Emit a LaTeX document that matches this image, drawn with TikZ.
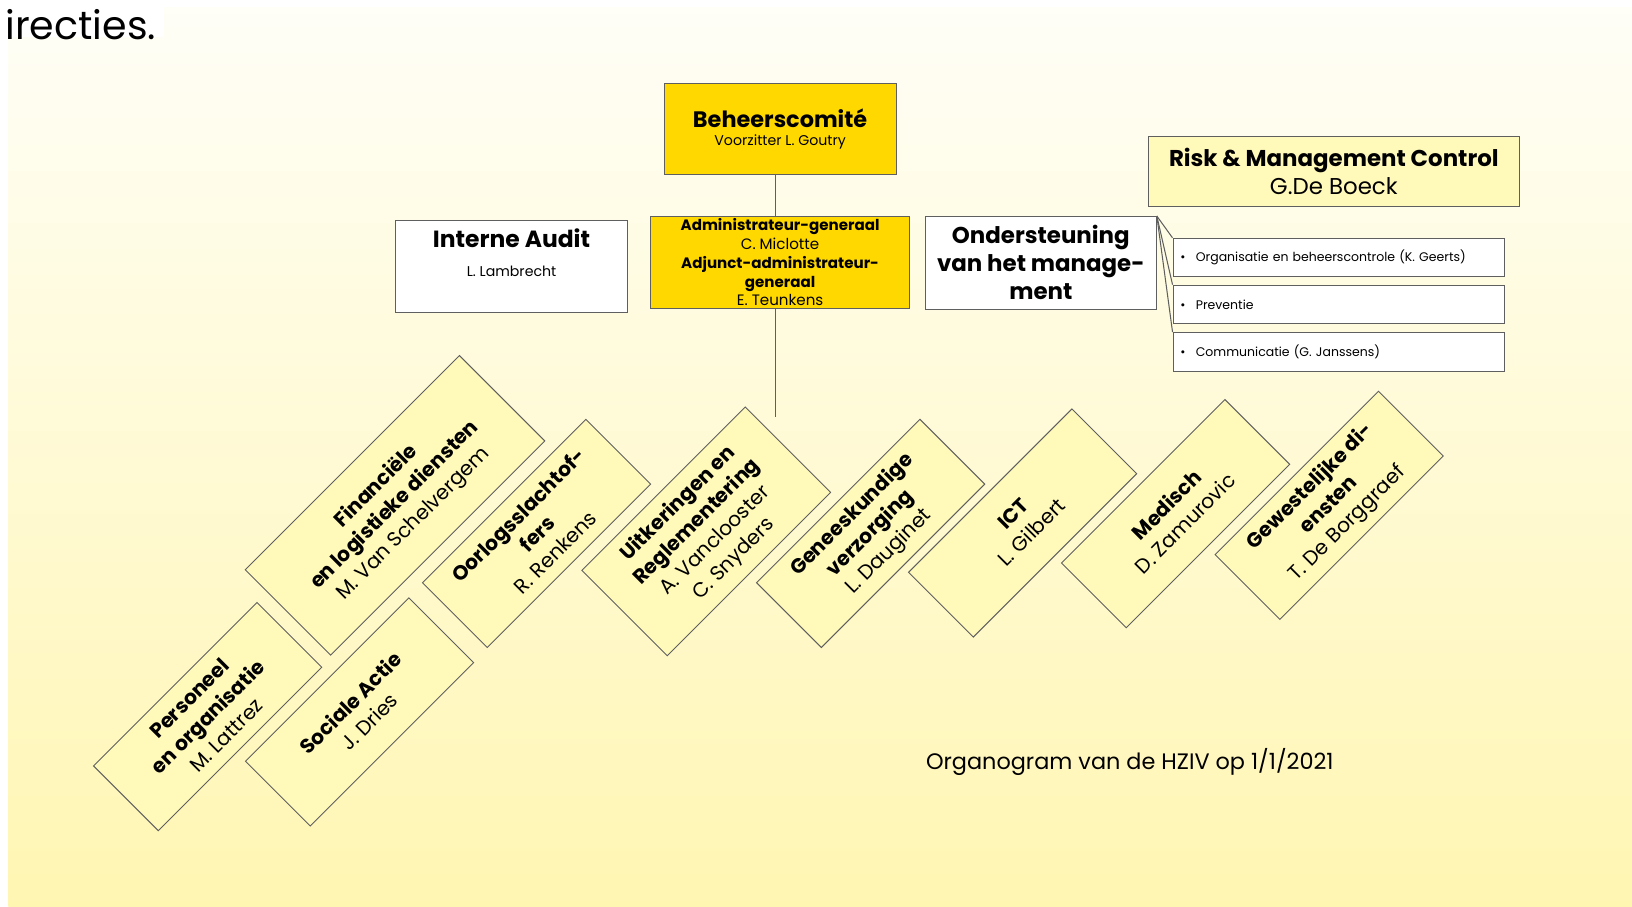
\documentclass[tikz,border=0pt]{standalone}
\usepackage{fontspec}
\setmainfont{Poppins}
\definecolor{hzivgold}{RGB}{255,216,0}
\definecolor{hzivpale}{RGB}{255,249,186}
\definecolor{bgtop}{RGB}{255,254,247}
\definecolor{bgbottom}{RGB}{255,246,178}
\definecolor{rim}{RGB}{95,95,95}
\begin{document}
\begin{tikzpicture}[x=1pt,y=-1pt,
  box/.style={draw=rim,line width=0.9pt,align=center,inner sep=1pt},
  goldbox/.style={box,fill=hzivgold},
  whitebox/.style={box,fill=white},
  dirbox/.style={box,fill=hzivpale,rotate=45,minimum width=222pt,minimum height=88pt,
    font=\fontsize{19.5}{25}\selectfont},
  subbox/.style={box,fill=white,minimum width=318pt,minimum height=37pt,text width=304pt,
    align=left,inner sep=7pt,font=\fontsize{12}{14}\selectfont},
  link/.style={draw=rim,line width=1pt}]

\useasboundingbox (0,0) rectangle (1568,871);
\shade[top color=bgtop,bottom color=bgbottom] (8,7) rectangle (1568,871);
\fill[white] (0,0) rectangle (158,36);
\node[font=\fontsize{38}{42}\selectfont,anchor=base west,inner sep=0pt] (kop) at (5,38) {irecties.};

\node[goldbox,minimum width=223pt,minimum height=88pt] (beheer) at (749.5,124)
  {{\bfseries\fontsize{21.5}{23}\selectfont Beheerscomité}\\[6pt]{\fontsize{13.6}{15}\selectfont Voorzitter L. Goutry}};
\node[goldbox,minimum width=249pt,minimum height=88pt,font=\fontsize{14.5}{18}\selectfont] (admin) at (749.5,252)
  {\textbf{Administrateur-generaal}\\C. Miclotte\\\textbf{Adjunct-administrateur-}\\\textbf{generaal}\\E. Teunkens};
\node[whitebox,minimum width=223pt,minimum height=88pt] (audit) at (491.5,256)
  {{\bfseries\fontsize{22.5}{24}\selectfont Interne Audit}\\[16pt]{\fontsize{13.6}{15}\selectfont L. Lambrecht}\\[14pt]\mbox{}};
\node[whitebox,minimum width=222pt,minimum height=89pt,font=\bfseries\fontsize{22}{27}\selectfont] (steun) at (1000,252.5)
  {Ondersteuning\\van het manage-\\ment};
\node[box,fill=hzivpale,minimum width=357pt,minimum height=67pt,font=\fontsize{22}{27}\selectfont] (risk) at (1281.5,164.5)
  {\textbf{Risk \& Management Control}\\G.De Boeck};

\node[subbox] (org) at (1286,247.5) {\textbullet\hspace{10pt}Organisatie en beheerscontrole (K.~Geerts)};
\node[subbox] (prev) at (1286,292.5) {\textbullet\hspace{10pt}Preventie};
\node[subbox] (comm) at (1286,338) {\textbullet\hspace{10pt}Communicatie (G.~Janssens)};

\coordinate (stem) at (745,401);
\draw[link] (beheer.south -| stem) -- (admin.north -| stem);
\draw[link] (admin.south -| stem) -- (stem);
\draw[link] (steun.north east) -- (org.north west);
\draw[link] (steun.north east) -- (prev.north west);
\draw[link] (steun.north east) -- (comm.north west);

\node[dirbox] (pers) at (199.5,688.5) {\textbf{Personeel}\\\textbf{en organisatie}\\M. Lattrez};
\node[dirbox] (soc) at (345.5,684) {\textbf{Sociale Actie}\\J. Dries};
\node[dirbox,minimum width=291pt,minimum height=116pt] (fin) at (379.5,485.5)
  {\textbf{Financiële}\\\textbf{en logistieke diensten}\\M. Van Schelvergem};
\node[dirbox] (oorlog) at (515.5,512.5) {\textbf{Oorlogsslachtof-}\\\textbf{fers}\\R. Renkens};
\node[dirbox,minimum height=116pt] (uitk) at (678.5,510.5)
  {\textbf{Uitkeringen en}\\\textbf{Reglementering}\\A. Vanclooster\\C. Snyders};
\node[dirbox] (genees) at (836.5,512.5) {\textbf{Geneeskundige}\\\textbf{verzorging}\\L. Dauginet};
\node[dirbox] (ict) at (982.5,502.5) {\textbf{ICT}\\L. Gilbert};
\node[dirbox] (med) at (1129.5,493.5) {\textbf{Medisch}\\D. Zamurovic};
\node[dirbox] (gew) at (1277,485.5) {\textbf{Gewestelijke di-}\\\textbf{ensten}\\T. De Borggraef};

\node[font=\fontsize{21.5}{25}\selectfont] (caption) at (1085.5,732) {Organogram van de HZIV op 1/1/2021};

\end{tikzpicture}
\end{document}
